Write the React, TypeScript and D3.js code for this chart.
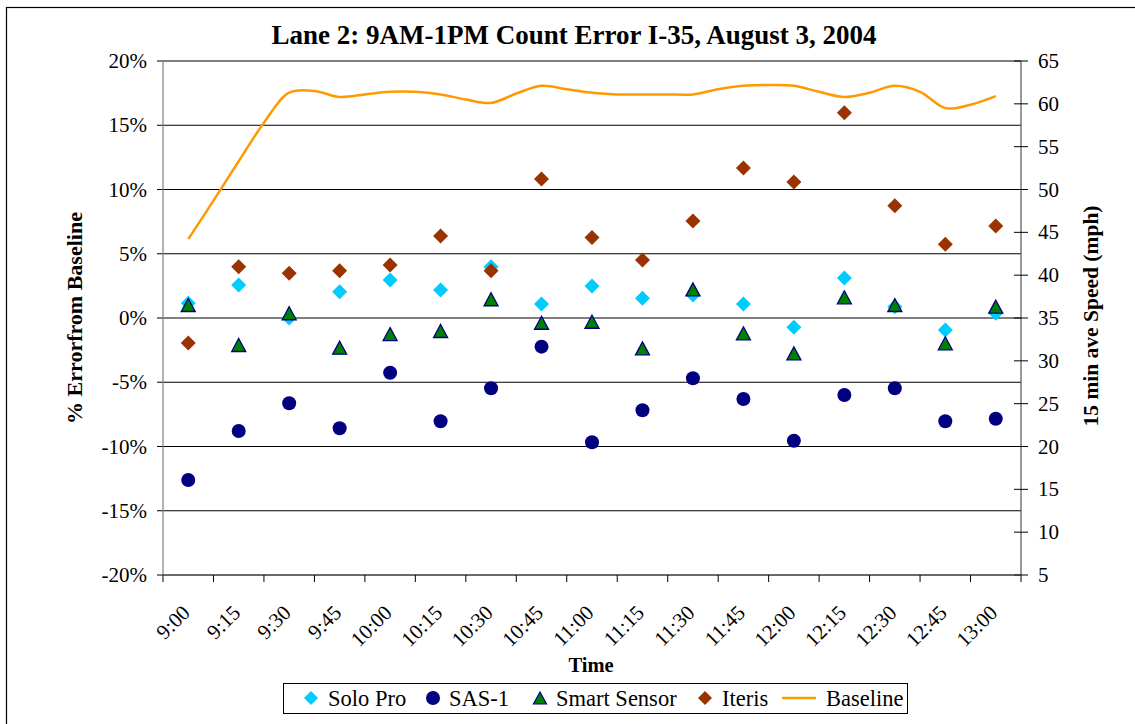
import React from "react";
import * as d3 from "d3";

// time categories (15 min bins)
const categories = [
  "9:00", "9:15", "9:30", "9:45", "10:00", "10:15", "10:30", "10:45", "11:00",
  "11:15", "11:30", "11:45", "12:00", "12:15", "12:30", "12:45", "13:00",
];

// % error from baseline
const soloPro = [1.14, 2.57, 0.0, 2.05, 2.96, 2.18, 3.99, 1.09, 2.49, 1.53, 1.79, 1.09, -0.72, 3.11, 0.88, -0.93, 0.37];
const sas1 = [-12.61, -8.79, -6.64, -8.58, -4.26, -8.04, -5.47, -2.23, -9.67, -7.18, -4.69, -6.3, -9.55, -5.99, -5.47, -8.04, -7.84];
const smartSensor = [1.01, -2.1, 0.37, -2.31, -1.25, -1.01, 1.46, -0.37, -0.29, -2.36, 2.23, -1.19, -2.75, 1.61, 1.01, -1.97, 0.88];
const iteris = [-1.95, 3.99, 3.48, 3.68, 4.12, 6.38, 3.68, 10.82, 6.26, 4.51, 7.55, 11.67, 10.58, 15.98, 8.74, 5.74, 7.16];

// baseline speed (mph), read every half bin starting at the first bin centre
const baselineSpeed = [
  44.2, 48.7, 53.3, 57.8, 61.3, 61.5, 60.8, 61.1, 61.4, 61.4, 61.1, 60.5, 60.1, 61.2, 62.1, 61.7, 61.3,
  61.1, 61.1, 61.1, 61.1, 61.7, 62.1, 62.2, 62.1, 61.4, 60.8, 61.3, 62.1, 61.4, 59.5, 59.9, 60.9,
];

const leftTicks = [20, 15, 10, 5, 0, -5, -10, -15, -20];
const rightTicks = [65, 60, 55, 50, 45, 40, 35, 30, 25, 20, 15, 10, 5];

const FONT = "'Liberation Serif', 'Times New Roman', serif";

const plot = { left: 163, right: 1021, top: 61, bottom: 575 };

const COLORS = {
  solo: "#00CCFF",
  sas: "#000080",
  smart: "#008000",
  iteris: "#993300",
  base: "#FF9900",
};

const diamond = (cx: number, cy: number, r: number) =>
  `M${cx},${cy - r}L${cx + r},${cy}L${cx},${cy + r}L${cx - r},${cy}Z`;
const triangle = (cx: number, cy: number, w: number, h: number) =>
  `M${cx},${cy - h / 2}L${cx + w / 2},${cy + h / 2}L${cx - w / 2},${cy + h / 2}Z`;

export default function App() {
  const x = d3.scaleBand<string>().domain(categories).range([plot.left, plot.right]).padding(0);
  const xi = d3.scaleLinear().domain([0, categories.length]).range([plot.left, plot.right]);
  const y = d3.scaleLinear().domain([-20, 20]).range([plot.bottom, plot.top]);
  const y2 = d3.scaleLinear().domain([5, 65]).range([plot.bottom, plot.top]);
  const cx = (c: string) => (x(c) as number) + x.bandwidth() / 2;

  const line = d3
    .line<number>()
    .x((_, i) => xi(0.5 + i * 0.5))
    .y((d) => y2(d))
    .curve(d3.curveCatmullRom.alpha(0.5));

  const tickEdges = d3.range(categories.length + 1).map((i) => xi(i));

  return (
    <svg
      width={1135}
      height={724}
      style={{ position: "absolute", left: 0, top: 0, background: "#fff" }}
      fontFamily={FONT}
    >
      <rect x={0} y={0} width={1135} height={724} fill="#fff" />
      <rect x={6.5} y={7.5} width={1140} height={730} fill="none" stroke="#000" strokeWidth={1.2} />

      <text x={574} y={44} textAnchor="middle" fontSize={27} fontWeight="bold">
        Lane 2: 9AM-1PM Count Error I-35, August 3, 2004
      </text>

      {/* gridlines */}
      {leftTicks.map((t) => (
        <line key={"g" + t} x1={plot.left - 6} x2={plot.right} y1={y(t)} y2={y(t)} stroke="#000" strokeWidth={1} />
      ))}

      {/* left axis */}
      <line x1={plot.left} x2={plot.left} y1={plot.top} y2={plot.bottom} stroke="#808080" strokeWidth={1.2} />
      {leftTicks.map((t) => (
        <text key={"l" + t} x={147} y={y(t) + 7} textAnchor="end" fontSize={21}>
          {t + "%"}
        </text>
      ))}

      {/* right axis */}
      <line x1={plot.right} x2={plot.right} y1={plot.top} y2={plot.bottom} stroke="#555" strokeWidth={1.2} />
      {rightTicks.map((t) => (
        <g key={"r" + t}>
          <line x1={plot.right - 7} x2={plot.right + 7} y1={y2(t)} y2={y2(t)} stroke="#000" />
          <text x={1038} y={y2(t) + 7} fontSize={21}>
            {t}
          </text>
        </g>
      ))}

      {/* x axis */}
      <line x1={plot.left} x2={plot.right} y1={plot.bottom} y2={plot.bottom} stroke="#555" strokeWidth={1.2} />
      {tickEdges.map((e, i) => (
        <line key={"xt" + i} x1={e} x2={e} y1={plot.bottom} y2={plot.bottom + 7} stroke="#000" />
      ))}
      {categories.map((c) => (
        <text
          key={"xl" + c}
          transform={`translate(${cx(c) + 3},${plot.bottom + 39}) rotate(-45)`}
          textAnchor="end"
          fontSize={21}
        >
          {c}
        </text>
      ))}

      {/* axis titles */}
      <text transform="translate(82,318) rotate(-90)" textAnchor="middle" fontSize={22} fontWeight="bold">
        % Errorfrom Baseline
      </text>
      <text transform="translate(1098,316) rotate(-90)" textAnchor="middle" fontSize={21.5} fontWeight="bold">
        15 min ave Speed (mph)
      </text>
      <text x={591} y={672} textAnchor="middle" fontSize={20.5} fontWeight="bold">
        Time
      </text>

      {/* baseline speed */}
      <path d={line(baselineSpeed) || ""} fill="none" stroke={COLORS.base} strokeWidth={2.5} />

      {/* markers */}
      {soloPro.map((v, i) => (
        <path key={"sp" + i} d={diamond(cx(categories[i]), y(v), 7.5)} fill={COLORS.solo} />
      ))}
      {sas1.map((v, i) => (
        <circle key={"sa" + i} cx={cx(categories[i])} cy={y(v)} r={7} fill={COLORS.sas} />
      ))}
      {smartSensor.map((v, i) => (
        <path
          key={"ss" + i}
          d={triangle(cx(categories[i]), y(v), 14, 13)}
          fill={COLORS.smart}
          stroke={COLORS.sas}
          strokeWidth={1.3}
        />
      ))}
      {iteris.map((v, i) => (
        <path key={"it" + i} d={diamond(cx(categories[i]), y(v), 7.5)} fill={COLORS.iteris} />
      ))}

      {/* legend */}
      <rect x={283.5} y={683.5} width={624} height={30} fill="#fff" stroke="#000" strokeWidth={1} />
      <g fontSize={22.5}>
        <path d={diamond(311, 698, 7)} fill={COLORS.solo} />
        <text x={328} y={706}>Solo Pro</text>
        <circle cx={433} cy={698} r={7} fill={COLORS.sas} />
        <text x={449} y={706}>SAS-1</text>
        <path d={triangle(540, 698, 13, 12)} fill={COLORS.smart} stroke={COLORS.sas} strokeWidth={1.2} />
        <text x={556} y={706}>Smart Sensor</text>
        <path d={diamond(705, 698, 7)} fill={COLORS.iteris} />
        <text x={722} y={706}>Iteris</text>
        <line x1={782} x2={816} y1={698} y2={698} stroke={COLORS.base} strokeWidth={2.5} />
        <text x={826} y={706}>Baseline</text>
      </g>
    </svg>
  );
}
